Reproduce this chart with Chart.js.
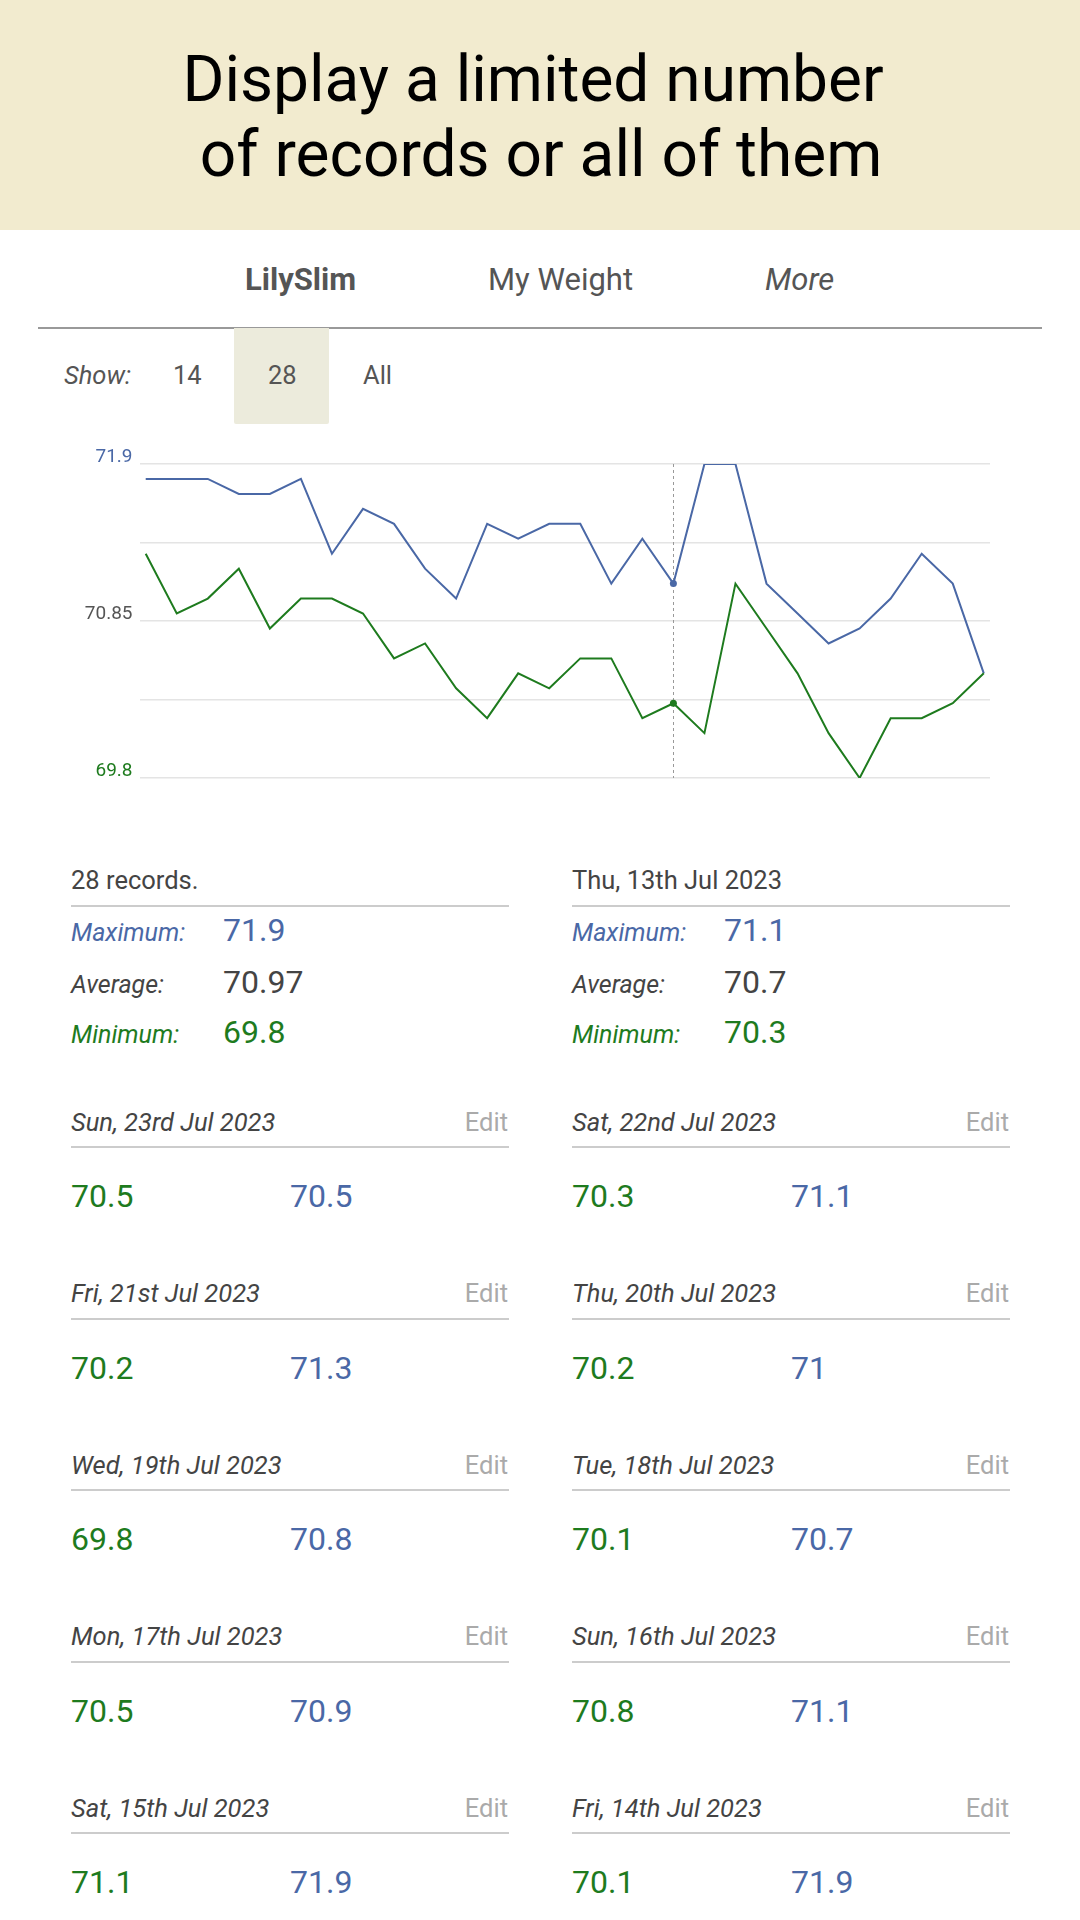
<!DOCTYPE html>
<html>
<head>
<meta charset="utf-8">
<script src="https://cdn.jsdelivr.net/npm/chart.js@4.4.0/dist/chart.umd.min.js"></script>
<style>
  body { margin: 0; width: 1080px; height: 1920px; position: relative; overflow: hidden; background: #fff; font-family: Roboto, sans-serif; color: #555; }
  .banner { position: absolute; left: 0; top: 0; width: 1080px; height: 230px; background: #f2ebcf; }
  .t { position: absolute; white-space: nowrap; line-height: 1; }
  .rule { position: absolute; height: 2px; background: #ccc; }
  #wrap { position: absolute; left: 0; top: 430px; width: 1080px; height: 370px; }
</style>
</head>
<body>
<div class="banner"></div>
<div id="page"></div>
<div id="wrap"><canvas id="chart"></canvas></div>

<script>
'use strict'

// one record per day, oldest first
const dates = [
  'Mon, 26th Jun 2023', 'Tue, 27th Jun 2023', 'Wed, 28th Jun 2023', 'Thu, 29th Jun 2023',
  'Fri, 30th Jun 2023', 'Sat, 1st Jul 2023', 'Sun, 2nd Jul 2023', 'Mon, 3rd Jul 2023',
  'Tue, 4th Jul 2023', 'Wed, 5th Jul 2023', 'Thu, 6th Jul 2023', 'Fri, 7th Jul 2023',
  'Sat, 8th Jul 2023', 'Sun, 9th Jul 2023', 'Mon, 10th Jul 2023', 'Tue, 11th Jul 2023',
  'Wed, 12th Jul 2023', 'Thu, 13th Jul 2023', 'Fri, 14th Jul 2023', 'Sat, 15th Jul 2023',
  'Sun, 16th Jul 2023', 'Mon, 17th Jul 2023', 'Tue, 18th Jul 2023', 'Wed, 19th Jul 2023',
  'Thu, 20th Jul 2023', 'Fri, 21st Jul 2023', 'Sat, 22nd Jul 2023', 'Sun, 23rd Jul 2023'
];
// blue line
const maxWeight = [71.8, 71.8, 71.8, 71.7, 71.7, 71.8, 71.3, 71.6, 71.5, 71.2, 71.0, 71.5, 71.4, 71.5,
  71.5, 71.1, 71.4, 71.1, 71.9, 71.9, 71.1, 70.9, 70.7, 70.8, 71.0, 71.3, 71.1, 70.5];
// green line
const minWeight = [71.3, 70.9, 71.0, 71.2, 70.8, 71.0, 71.0, 70.9, 70.6, 70.7, 70.4, 70.2, 70.5, 70.4,
  70.6, 70.6, 70.2, 70.3, 70.1, 71.1, 70.8, 70.5, 70.1, 69.8, 70.2, 70.2, 70.3, 70.5];

const yTicks = [69.8, 70.325, 70.85, 71.375, 71.9];
const yLabels = [69.8, 70.85, 71.9];
const selected = 17;   // Thu, 13th Jul
const listed = 10;     // records shown under the chart

const BLUE = '#4a68a6';
const GREEN = '#1e7b1e';

const page = document.getElementById('page');

//テキストをベースライン基準で置く
function txt(str, x, base, size, css) {
  const d = document.createElement('div');
  d.className = 't';
  d.textContent = str;
  d.style.fontSize = size + 'px';
  d.style.top = (base - 0.842 * size) + 'px';
  if (css && css.right) {
    d.style.right = (1080 - x) + 'px';
  } else {
    d.style.left = x + 'px';
  }
  Object.assign(d.style, css ? css.style : {});
  page.appendChild(d);
  return d;
}
function rule(x, y, w, color, h) {
  const d = document.createElement('div');
  d.className = 'rule';
  d.style.left = x + 'px';
  d.style.top = y + 'px';
  d.style.width = w + 'px';
  if (color) d.style.background = color;
  if (h) d.style.height = h + 'px';
  page.appendChild(d);
}

// title
txt('Display a limited number', 0, 102, 64, { style: { width: '1066px', textAlign: 'center', color: '#000' } });
txt('of records or all of them', 0, 177, 64, { style: { width: '1082px', textAlign: 'center', color: '#000' } });

// tabs
txt('LilySlim', 245, 290, 31, { style: { fontWeight: 'bold' } });
txt('My Weight', 488, 290, 31);
txt('More', 765, 290, 31, { style: { fontStyle: 'italic' } });
rule(38, 327, 1004, '#999');

// show: 14 28 All
const box = document.createElement('div');
Object.assign(box.style, { position: 'absolute', left: '234px', top: '328px', width: '95px', height: '96px', background: '#ecebdc', borderRadius: '0 0 2px 2px' });
page.appendChild(box);
txt('Show:', 64, 384, 25.5, { style: { fontStyle: 'italic' } });
txt('14', 173, 384, 25.5);
txt('28', 268, 384, 25.5);
txt('All', 363, 384, 25.5);

// summary
function fmt(v) { return String(Math.round(v * 100) / 100); }
const all = maxWeight.concat(minWeight);
const avgAll = all.reduce((a, b) => a + b, 0) / all.length;

function summary(x0, head, mx, av, mn) {
  txt(head, x0, 889, 25.5, { style: { color: '#444' } });
  rule(x0, 905, 438);
  txt('Maximum:', x0, 941, 25, { style: { fontStyle: 'italic', color: BLUE } });
  txt(fmt(mx), x0 + 152, 941, 32, { style: { color: BLUE } });
  txt('Average:', x0, 993, 25, { style: { fontStyle: 'italic', color: '#444' } });
  txt(fmt(av), x0 + 152, 993, 32, { style: { color: '#444' } });
  txt('Minimum:', x0, 1043, 25, { style: { fontStyle: 'italic', color: GREEN } });
  txt(fmt(mn), x0 + 152, 1043, 32, { style: { color: GREEN } });
}
summary(71, all.length / 2 + ' records.', Math.max(...maxWeight), avgAll, Math.min(...minWeight));
summary(572, dates[selected], maxWeight[selected], (maxWeight[selected] + minWeight[selected]) / 2, minWeight[selected]);

// record list, newest first
for (let i = 0; i < listed; i++) {
  const k = dates.length - 1 - i;
  const x0 = i % 2 ? 572 : 71;
  const dy = Math.floor(i / 2) * 171.5;
  txt(dates[k], x0, 1131 + dy, 25.5, { style: { fontStyle: 'italic', color: '#444' } });
  txt('Edit', x0 + 437, 1131 + dy, 25.5, { right: true, style: { color: '#aaa' } });
  rule(x0, 1146 + dy, 438);
  txt(String(minWeight[k]), x0, 1207 + dy, 32, { style: { color: GREEN } });
  txt(String(maxWeight[k]), x0 + 219, 1207 + dy, 32, { style: { color: BLUE } });
}

// chart
const cursorLine = {
  id: 'cursorLine',
  beforeDatasetsDraw(chart) {
    const c = chart.ctx;
    const x = chart.scales.x.getPixelForValue(selected);
    c.save();
    c.strokeStyle = '#999';
    c.lineWidth = 1;
    c.setLineDash([3, 3]);
    c.beginPath();
    c.moveTo(Math.round(x) + 0.5, chart.chartArea.top);
    c.lineTo(Math.round(x) + 0.5, chart.chartArea.bottom);
    c.stroke();
    c.restore();
  }
};

function line(values, color) {
  return {
    data: values.map((v, i) => ({ x: i, y: v })),
    borderColor: color,
    backgroundColor: color,
    borderWidth: 2,
    tension: 0,
    pointRadius: (c) => c.dataIndex === selected ? 3.5 : 0,
    pointBorderWidth: 0,
  };
}

new Chart(document.getElementById('chart'), {
  type: 'line',
  data: {
    labels: dates,
    datasets: [line(minWeight, GREEN), line(maxWeight, BLUE)],
  },
  options: {
    responsive: true,
    maintainAspectRatio: false,
    animation: false,
    events: [],
    layout: { padding: { top: 34, right: 90, bottom: 22, left: 0 } },
    plugins: { legend: { display: false }, tooltip: { enabled: false } },
    scales: {
      x: { type: 'linear', min: -0.2, max: 27.2, display: false },
      y: {
        min: 69.8,
        max: 71.9,
        afterFit: (scale) => { scale.width = 139.5; },
        afterBuildTicks: (scale) => { scale.ticks = yTicks.map((v) => ({ value: v })); },
        border: { display: false },
        grid: { color: '#e4e4e4', lineWidth: 1.5, drawTicks: false },
        ticks: {
          padding: 7,
          labelOffset: -7,
          font: { family: 'Roboto', size: 19 },
          color: (c) => c.tick.value === 71.9 ? BLUE : (c.tick.value === 69.8 ? GREEN : '#555'),
          callback: (v) => yLabels.includes(v) ? String(v) : '',
        },
      },
    },
  },
  plugins: [cursorLine],
});
</script>
</body>
</html>
